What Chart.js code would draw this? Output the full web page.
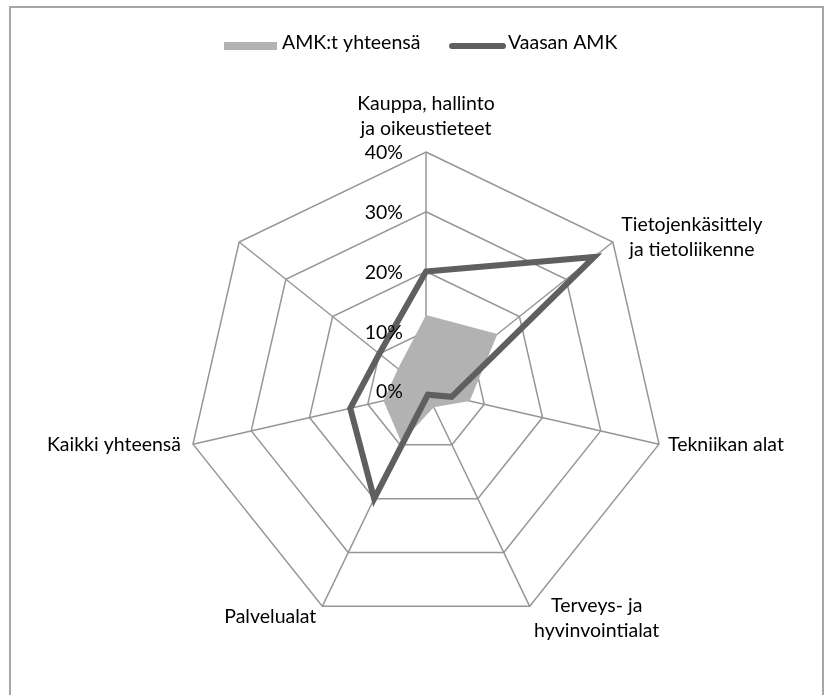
<!DOCTYPE html>
<html lang="fi">
<head>
<meta charset="UTF-8">
<title>AMK:t yhteensä / Vaasan AMK</title>
<script src="https://cdn.jsdelivr.net/npm/chart.js@4"></script>
<style>
  html, body { margin: 0; padding: 0; background: #fff; }
  #wrap { position: relative; width: 824px; height: 695px; overflow: hidden; }
  #kehys { position: absolute; left: 9px; top: 6px; width: 815px; height: 720px; border: 2px solid #a6a6a6; box-sizing: border-box; pointer-events: none; }
  canvas { position: absolute; left: 0; top: 0; }
</style>
</head>
<body>
<div id="wrap">
  <canvas id="tutka" width="824" height="695"></canvas>
  <div id="kehys"></div>
</div>
<script>
// koulutusalat (viimeinen akseli ilman nimeä)
const alat = [
    ['Kauppa, hallinto', 'ja oikeustieteet'],
    ['Tietojenkäsittely', 'ja tietoliikenne'],
    'Tekniikan alat',
    ['Terveys- ja', 'hyvinvointialat'],
    'Palvelualat',
    'Kaikki yhteensä',
    ''
];
// osuudet prosentteina
const amkYhteensa = [12.7, 15.3, 7.5, 3, 9.5, 7.3, 6];
const vaasanAmk = [20, 36, 4.4, 0.7, 20, 13, 10];
const asteikko = [0, 10, 20, 30, 40];

const fontti = '19.5px Lato';

// akselien nimet: siirto kärkipisteestä ja tasaus
const nimiSiirto = [
    { dx: 0, dy: -48, align: 'center' },
    { dx: 79, dy: -17, align: 'center' },
    { dx: 9, dy: 1, align: 'left' },
    { dx: 67, dy: -1, align: 'center' },
    { dx: -52, dy: 10, align: 'center' },
    { dx: -12, dy: 1, align: 'right' },
    { dx: 0, dy: 0, align: 'center' }
];

const tekstit = {
    id: 'tekstit',
    afterDraw(chart) {
        const ctx = chart.ctx;
        const r = chart.scales.r;
        ctx.save();
        ctx.font = fontti;
        ctx.fillStyle = '#000';
        ctx.textBaseline = 'middle';

        // asteikon arvot akselin vasemmalle puolelle
        ctx.textAlign = 'right';
        r.ticks.forEach(t => {
            const y = r.yCenter - r.getDistanceFromCenterForValue(t.value);
            ctx.fillText(t.value + '%', r.xCenter - 23, y + 1);
        });

        // akselien nimet
        alat.forEach((nimi, i) => {
            if (!nimi) return;
            const p = r.getPointPosition(i, r.drawingArea);
            const s = nimiSiirto[i];
            const rivit = Array.isArray(nimi) ? nimi : [nimi];
            ctx.textAlign = s.align;
            rivit.forEach((rivi, j) => {
                ctx.fillText(rivi, p.x + s.dx, p.y + s.dy + j * 25);
            });
        });

        // selite
        ctx.textAlign = 'left';
        ctx.fillStyle = '#b2b2b2';
        ctx.fillRect(224, 42, 53, 8);
        ctx.fillStyle = '#000';
        ctx.fillText('AMK:t yhteensä', 282, 43);
        ctx.strokeStyle = '#5f5f5f';
        ctx.lineWidth = 6;
        ctx.lineCap = 'round';
        ctx.beginPath();
        ctx.moveTo(452, 46);
        ctx.lineTo(503, 46);
        ctx.stroke();
        ctx.fillText('Vaasan AMK', 508, 43);
        ctx.restore();
    }
};

new Chart(document.getElementById('tutka'), {
    type: 'radar',
    data: {
        labels: alat,
        datasets: [
            {
                label: 'AMK:t yhteensä',
                data: amkYhteensa,
                backgroundColor: '#b2b2b2',
                borderWidth: 0,
                fill: true,
                pointRadius: 0,
                order: 2
            },
            {
                label: 'Vaasan AMK',
                data: vaasanAmk,
                borderColor: '#5f5f5f',
                borderWidth: 6,
                borderJoinStyle: 'miter',
                fill: false,
                pointRadius: 0,
                order: 1
            }
        ]
    },
    options: {
        responsive: false,
        animation: false,
        layout: { padding: { left: 187, right: 159, top: 152, bottom: 65 } },
        plugins: { legend: { display: false }, tooltip: { enabled: false } },
        scales: {
            r: {
                min: asteikko[0],
                max: asteikko[asteikko.length - 1],
                ticks: { stepSize: 10, display: false },
                pointLabels: { display: false },
                grid: { color: '#969696', lineWidth: 1.5 },
                angleLines: { color: '#969696', lineWidth: 1.5 }
            }
        }
    },
    plugins: [tekstit]
});
</script>
</body>
</html>
